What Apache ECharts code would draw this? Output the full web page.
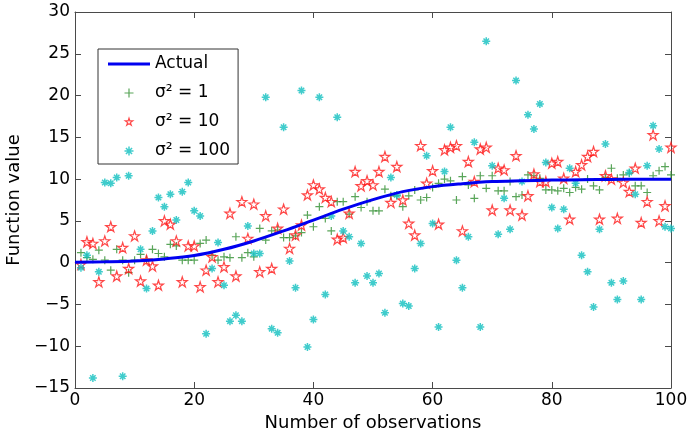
<!DOCTYPE html>
<html><head><meta charset="utf-8">
<script src="https://cdn.jsdelivr.net/npm/echarts@6/dist/echarts.min.js"></script>
<style>html,body{margin:0;padding:0;background:#fff}#c{width:690px;height:436px}</style>
</head><body><div id="c"></div>
<script>
const xLabel = 'Number of observations';
const yLabel = 'Function value';
const xTicks = [0, 20, 40, 60, 80, 100];
const yTicks = [-15, -10, -5, 0, 5, 10, 15, 20, 25, 30];
const seriesNames = ['Actual', 'σ² = 1', 'σ² = 10', 'σ² = 100'];

const actualX = [0, 5, 10, 15, 20, 25, 30, 35, 40, 45, 50, 55, 60, 65, 70, 75, 80, 85, 90, 95, 100];
const actualY = [0.05, 0.1, 0.2, 0.45, 0.85, 1.6, 2.6, 3.8, 5.1, 6.4, 7.55, 8.5, 9.1, 9.45, 9.7, 9.8, 9.88, 9.93, 9.96, 9.98, 9.99];

const obsIndex = [1,2,3,4,5,6,7,8,9,10,11,12,13,14,15,16,17,18,19,20,
  21,22,23,24,25,26,27,28,29,30,31,32,33,34,35,36,37,38,39,40,
  41,42,43,44,45,46,47,48,49,50,51,52,53,54,55,56,57,58,59,60,
  61,62,63,64,65,66,67,68,69,70,71,72,73,74,75,76,77,78,79,80,
  81,82,83,84,85,86,87,88,89,90,91,92,93,94,95,96,97,98,99,100];

const obsVar1 = [1.2,0.6,0.4,1.5,0.3,-0.9,1.6,0.3,-1.2,0.3,
  1.0,0.4,1.6,1.1,0.7,2.2,2.0,0.3,0.3,0.3,
  2.3,2.7,0.9,0.3,0.7,0.6,3.1,0.6,1.2,0.7,
  4.1,2.7,3.8,3.9,3.0,3.0,3.2,3.6,5.7,4.3,
  6.7,5.3,3.8,7.3,7.3,5.8,7.9,6.6,7.3,6.2,
  6.2,8.8,8.0,8.0,6.7,8.0,8.7,7.5,7.8,9.0,
  9.5,10.0,9.8,7.5,10.3,9.3,7.7,10.4,8.9,10.4,
  8.6,8.6,9.7,7.9,8.1,10.5,10.4,10.1,8.7,8.7,
  8.6,8.9,8.4,9.0,8.8,10.0,9.2,8.7,10.2,11.3,
  10.1,10.5,10.7,9.2,9.2,8.4,10.4,11.0,11.5,10.5];

const obsVar10 = [-0.2,2.5,2.3,-2.3,2.6,4.3,-1.6,1.8,-0.7,3.2,
  -2.2,0.3,-0.4,-2.7,5.0,4.6,2.6,-2.3,2.0,2.0,
  -2.9,-0.9,0.7,-2.3,-0.5,5.9,-1.6,7.3,2.9,7.0,
  -1.1,5.6,-0.7,4.1,6.4,1.7,3.3,4.5,8.1,9.3,
  8.8,7.8,7.3,2.8,3.0,5.9,10.9,9.2,9.8,9.3,
  10.9,12.7,7.2,11.5,7.5,4.7,3.3,14.0,9.5,11.0,
  4.6,13.5,13.8,14.0,3.8,12.1,9.7,13.6,13.8,6.3,
  11.3,11.1,6.3,12.8,5.7,8.0,10.6,9.7,9.7,11.9,
  12.1,10.1,5.2,10.9,11.7,12.7,13.3,5.2,10.4,10.0,
  5.3,9.6,8.5,11.3,4.8,7.3,15.3,5.0,6.8,13.8];

const obsVar100 = [-0.6,0.9,-13.8,-1.1,9.6,9.5,10.2,-13.6,10.4,14.5,
  1.6,-3.1,3.8,7.8,6.7,8.2,5.1,8.5,9.6,6.2,
  5.6,-8.5,-0.7,2.4,-2.7,-7.0,-6.3,-7.0,4.4,1.1,
  1.1,19.8,-7.9,-8.4,16.2,0.2,-3.0,20.6,-10.1,-6.8,
  19.8,-3.8,5.6,17.4,3.8,3.1,-2.4,2.3,-1.6,-2.4,
  -1.3,-6.0,10.2,8.1,-4.9,-5.2,-0.7,2.3,12.8,4.7,
  -7.7,10.9,16.2,0.3,-3.0,3.1,14.4,-7.7,26.5,11.6,
  3.4,7.7,4.0,21.8,9.7,17.7,16.0,19.0,12.0,6.6,
  4.1,6.4,11.3,9.5,0.9,-1.1,-5.3,4.0,14.2,-2.4,
  -4.4,-2.2,10.8,8.2,-4.4,11.6,16.4,13.6,4.3,4.1];

const FONT = 'DejaVu Sans';
const AX = '#4a4a4a';
const BLUE = '#0000f0';
const GREEN = '#2f8f2f';
const RED = '#ff1a1a';
const CYAN = '#10bfbf';
const plusPath = 'path://M5,0L5,10M0,5L10,5';
const starPath = 'path://M50,2L61.2,36.5L97.6,36.5L68.2,57.9L79.4,92.5L50,71.1L20.6,92.5L31.8,57.9L2.4,36.5L38.8,36.5Z';
const starLegendPath = 'path://M-8,-8M108,108M50,2L61.2,36.5L97.6,36.5L68.2,57.9L79.4,92.5L50,71.1L20.6,92.5L31.8,57.9L2.4,36.5L38.8,36.5Z';
const astPath = 'path://M5,0L5,10M0,5L10,5M1.6,1.6L8.4,8.4M8.4,1.6L1.6,8.4';
const lineIconPath = 'path://M0,0L42,0L42,3L0,3Z';

const pairs = (xs, ys) => xs.map((x, i) => [x, ys[i]]);
const fmtMinus = v => String(v).replace('-', '\u2212');

function xAx(pos, main) {
  return {
    type: 'value', position: pos,
    min: xTicks[0], max: xTicks[xTicks.length - 1], interval: xTicks[1] - xTicks[0],
    name: main ? xLabel : '', nameLocation: 'middle', nameGap: 24,
    nameTextStyle: { fontFamily: FONT, fontSize: 18, color: '#000' },
    axisLine: { show: true, onZero: false, lineStyle: { color: AX, width: 1 } },
    axisTick: { show: true, inside: true, length: 6, lineStyle: { color: AX, width: 1 } },
    axisLabel: { show: main, margin: 4, fontFamily: FONT, fontSize: 17, color: '#000', formatter: fmtMinus },
    splitLine: { show: false }
  };
}
function yAx(pos, main) {
  return {
    type: 'value', position: pos,
    min: yTicks[0], max: yTicks[yTicks.length - 1], interval: yTicks[1] - yTicks[0],
    name: main ? yLabel : '', nameLocation: 'middle', nameGap: 45, nameRotate: 90,
    nameTextStyle: { fontFamily: FONT, fontSize: 18, color: '#000' },
    axisLine: { show: true, onZero: false, lineStyle: { color: AX, width: 1 } },
    axisTick: { show: true, inside: true, length: 6, lineStyle: { color: AX, width: 1 } },
    axisLabel: { show: main, margin: 5, fontFamily: FONT, fontSize: 17, color: '#000', formatter: fmtMinus },
    splitLine: { show: false }
  };
}

const chart = echarts.init(document.getElementById('c'), null, { renderer: 'canvas' });
chart.setOption({
  animation: false,
  backgroundColor: '#fff',
  grid: { left: 75, right: 19, top: 12, bottom: 48, containLabel: false, outerBoundsMode: 'none' },
  xAxis: [xAx('bottom', true), xAx('top', false)],
  yAxis: [yAx('left', true), yAx('right', false)],
  legend: {
    orient: 'vertical', left: 98, top: 49,
    padding: [5, 8, 3, 10], itemGap: 9, itemWidth: 42, itemHeight: 9,
    backgroundColor: '#fff', borderColor: '#333', borderWidth: 1, borderRadius: 0,
    textStyle: { fontFamily: FONT, fontSize: 17, color: '#000', lineHeight: 20 },
    z: 10,
    data: [
      { name: seriesNames[0], icon: lineIconPath, itemStyle: { color: BLUE, borderWidth: 0 } },
      { name: seriesNames[1], icon: plusPath, itemStyle: { color: 'transparent', borderColor: GREEN, borderWidth: 1.2 } },
      { name: seriesNames[2], icon: starLegendPath, itemStyle: { color: 'transparent', borderColor: RED, borderWidth: 1.2 } },
      { name: seriesNames[3], icon: astPath, itemStyle: { color: 'transparent', borderColor: CYAN, borderWidth: 1.5 } }
    ]
  },
  series: [
    {
      type: 'line', name: seriesNames[0], xAxisIndex: 0, yAxisIndex: 0,
      data: pairs(actualX, actualY), smooth: 0.35, symbol: 'none', showSymbol: false,
      lineStyle: { color: BLUE, width: 3 }, itemStyle: { color: BLUE }
    },
    {
      type: 'scatter', name: seriesNames[1], xAxisIndex: 0, yAxisIndex: 0,
      data: pairs(obsIndex, obsVar1), symbol: plusPath, symbolSize: 8,
      itemStyle: { color: 'transparent', borderColor: GREEN, borderWidth: 1.2 }
    },
    {
      type: 'scatter', name: seriesNames[2], xAxisIndex: 0, yAxisIndex: 0,
      data: pairs(obsIndex, obsVar10), symbol: starPath, symbolSize: 10,
      itemStyle: { color: 'transparent', borderColor: RED, borderWidth: 1.2 }
    },
    {
      type: 'scatter', name: seriesNames[3], xAxisIndex: 0, yAxisIndex: 0,
      data: pairs(obsIndex, obsVar100), symbol: astPath, symbolSize: 8,
      itemStyle: { color: 'transparent', borderColor: CYAN, borderWidth: 1.5 }
    }
  ]
});
</script>
</body></html>
